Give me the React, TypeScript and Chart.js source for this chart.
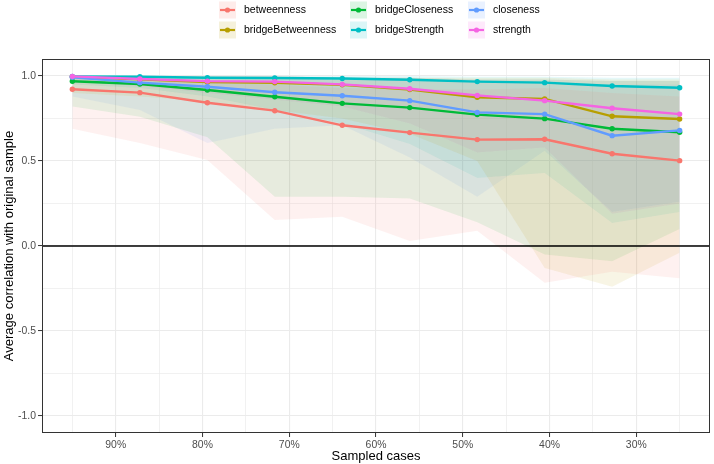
import React, { useEffect, useRef } from 'react';
import { Chart, registerables } from 'chart.js';
Chart.register(...registerables);

// ---- Data ----
const sampledCases = [0.95, 0.8722, 0.7944, 0.7167, 0.6389, 0.5611, 0.4833, 0.4056, 0.3278, 0.25];
const seriesNames = ['betweenness', 'bridgeBetweenness', 'bridgeCloseness', 'bridgeStrength', 'closeness', 'strength'];
const seriesColors = ['#F8766D', '#B79F00', '#00BA38', '#00BFC4', '#619CFF', '#F564E3'];

const betweennessMean = [0.922, 0.902, 0.843, 0.796, 0.71, 0.667, 0.626, 0.628, 0.543, 0.502];
const betweennessLower = [0.69, 0.606, 0.506, 0.153, 0.172, 0.03, 0.09, -0.216, -0.151, -0.19];
const betweennessUpper = [0.99, 0.98, 0.96, 0.95, 0.93, 0.92, 0.92, 0.93, 0.9, 0.88];

const bridgeBetweennessMean = [0.995, 0.98, 0.965, 0.96, 0.948, 0.92, 0.875, 0.865, 0.763, 0.747];
const bridgeBetweennessLower = [0.9, 0.88, 0.85, 0.8, 0.75, 0.66, 0.5, -0.13, -0.24, -0.04];
const bridgeBetweennessUpper = [1, 1, 1, 1, 0.99, 0.99, 0.99, 0.99, 0.98, 0.98];

const bridgeClosenessMean = [0.969, 0.953, 0.918, 0.878, 0.839, 0.814, 0.773, 0.749, 0.69, 0.669];
const bridgeClosenessLower = [0.82, 0.76, 0.64, 0.29, 0.29, 0.28, 0.14, -0.05, -0.09, 0.1];
const bridgeClosenessUpper = [1, 1, 0.99, 0.99, 0.99, 0.99, 0.98, 0.98, 0.97, 0.97];

const bridgeStrengthMean = [0.998, 0.996, 0.99, 0.988, 0.985, 0.978, 0.967, 0.961, 0.941, 0.931];
const bridgeStrengthLower = [0.95, 0.93, 0.88, 0.8, 0.72, 0.6, 0.4, 0.43, 0.135, 0.2];
const bridgeStrengthUpper = [1, 1, 1, 1, 1, 1, 0.995, 0.995, 0.99, 0.99];

const closenessMean = [0.992, 0.961, 0.937, 0.904, 0.884, 0.855, 0.786, 0.776, 0.649, 0.68];
const closenessLower = [0.88, 0.8, 0.606, 0.69, 0.71, 0.52, 0.29, 0.56, 0.2, 0.26];
const closenessUpper = [1, 1, 0.99, 0.99, 0.98, 0.98, 0.97, 0.97, 0.95, 0.95];

const strengthMean = [0.998, 0.982, 0.97, 0.967, 0.951, 0.925, 0.886, 0.855, 0.81, 0.776];
const strengthLower = [0.97, 0.94, 0.9, 0.86, 0.82, 0.72, 0.55, 0.58, 0.19, 0.25];
const strengthUpper = [1, 1, 1, 1, 0.99, 0.99, 0.98, 0.98, 0.97, 0.97];

const meanSeries = [betweennessMean, bridgeBetweennessMean, bridgeClosenessMean, bridgeStrengthMean, closenessMean, strengthMean];
const lowerSeries = [betweennessLower, bridgeBetweennessLower, bridgeClosenessLower, bridgeStrengthLower, closenessLower, strengthLower];
const upperSeries = [betweennessUpper, bridgeBetweennessUpper, bridgeClosenessUpper, bridgeStrengthUpper, closenessUpper, strengthUpper];

const xTicks = [0.25, 0.3, 0.35, 0.4, 0.45, 0.5, 0.55, 0.6, 0.65, 0.7, 0.75, 0.8, 0.85, 0.9, 0.95];
const yTicks = [-1, -0.75, -0.5, -0.25, 0, 0.25, 0.5, 0.75, 1];
const xTitle = 'Sampled cases';
const yTitle = 'Average correlation with original sample';

// ---- Helpers ----
const FONT = '"Liberation Sans", Arial, Helvetica, sans-serif';
function rgba(hex: string, a: number) {
  const n = parseInt(hex.slice(1), 16);
  return `rgba(${(n >> 16) & 255},${(n >> 8) & 255},${n & 255},${a})`;
}
const isMajorX = (v: number) => Math.abs(v * 10 - Math.round(v * 10)) < 1e-6;
const isMajorY = (v: number) => Math.abs(v * 2 - Math.round(v * 2)) < 1e-6;

const legendPlugin = {
  id: 'ggLegend',
  afterDraw(chart: any) {
    const ctx = chart.ctx;
    const keyLeft = [219, 350, 468];
    const rowY = [10, 30];
    const keySize = 17;
    ctx.save();
    ctx.font = `10.5px ${FONT}`;
    ctx.textBaseline = 'middle';
    ctx.textAlign = 'left';
    seriesNames.forEach((name, i) => {
      const col = Math.floor(i / 2);
      const row = i % 2;
      const x = keyLeft[col];
      const cy = rowY[row];
      ctx.fillStyle = rgba(seriesColors[i], 0.14);
      ctx.fillRect(x, cy - keySize / 2, keySize, keySize);
      ctx.strokeStyle = seriesColors[i];
      ctx.lineWidth = 2.2;
      ctx.beginPath();
      ctx.moveTo(x + 1, cy);
      ctx.lineTo(x + keySize - 1, cy);
      ctx.stroke();
      ctx.fillStyle = seriesColors[i];
      ctx.beginPath();
      ctx.arc(x + keySize / 2, cy, 2.6, 0, Math.PI * 2);
      ctx.fill();
      ctx.fillStyle = '#000000';
      ctx.fillText(name, x + keySize + 8, cy);
    });
    // panel border
    const a = chart.chartArea;
    ctx.strokeStyle = '#333333';
    ctx.lineWidth = 1;
    ctx.strokeRect(a.left + 0.5, a.top + 0.5, a.right - a.left - 1, a.bottom - a.top - 1);
    ctx.restore();
  },
};

const zeroLinePlugin = {
  id: 'zeroLine',
  afterDatasetsDraw(chart: any) {
    const ctx = chart.ctx;
    const y = chart.scales.y.getPixelForValue(0);
    const a = chart.chartArea;
    ctx.save();
    ctx.strokeStyle = '#000000';
    ctx.lineWidth = 1.6;
    ctx.beginPath();
    ctx.moveTo(a.left, y);
    ctx.lineTo(a.right, y);
    ctx.stroke();
    ctx.restore();
  },
};

export default function App() {
  const ref = useRef<HTMLCanvasElement | null>(null);
  useEffect(() => {
    document.body.style.margin = '0';
    const datasets: any[] = [];
    seriesNames.forEach((name, i) => {
      datasets.push({
        label: name + ' upper',
        data: sampledCases.map((x, k) => ({ x, y: upperSeries[i][k] })),
        borderWidth: 0,
        pointRadius: 0,
        backgroundColor: rgba(seriesColors[i], 0.1),
        fill: '+1',
        order: 100,
      });
      datasets.push({
        label: name + ' lower',
        data: sampledCases.map((x, k) => ({ x, y: lowerSeries[i][k] })),
        borderWidth: 0,
        pointRadius: 0,
        fill: false,
        order: 100,
      });
    });
    seriesNames.forEach((name, i) => {
      datasets.push({
        label: name,
        data: sampledCases.map((x, k) => ({ x, y: meanSeries[i][k] })),
        borderColor: seriesColors[i],
        backgroundColor: seriesColors[i],
        borderWidth: 2.4,
        pointRadius: 2.7,
        pointBorderWidth: 0,
        pointBackgroundColor: seriesColors[i],
        fill: false,
        tension: 0,
        order: 10 - i,
      });
    });

    const chart = new Chart(ref.current as HTMLCanvasElement, {
      type: 'line',
      data: { datasets },
      options: {
        animation: false,
        responsive: false,
        layout: { padding: { top: 59, right: 2, left: 0, bottom: 0 } },
        plugins: {
          legend: { display: false },
          tooltip: { enabled: false },
          filler: { drawTime: 'beforeDatasetsDraw', propagate: false },
        } as any,
        scales: {
          x: {
            type: 'linear',
            reverse: true,
            min: 0.215,
            max: 0.985,
            afterBuildTicks: (s: any) => { s.ticks = xTicks.map((v) => ({ value: v })); },
            afterFit: (s: any) => { s.height = 31; },
            ticks: {
              autoSkip: false,
              maxRotation: 0,
              padding: 2,
              color: '#4D4D4D',
              font: { family: FONT, size: 10.4 },
              callback: (v: any) => (isMajorX(Number(v)) ? `${Math.round(Number(v) * 100)}%` : ''),
            },
            grid: {
              color: '#EBEBEB',
              lineWidth: (c: any) => (c.tick && isMajorX(c.tick.value) ? 1.1 : 0.7),
              tickLength: 4,
              tickColor: (c: any) => (c.tick && isMajorX(c.tick.value) ? '#333333' : 'rgba(0,0,0,0)'),
              tickWidth: 1,
            },
            border: { display: false },
            title: {
              display: true,
              text: xTitle,
              color: '#000000',
              font: { family: FONT, size: 13 },
              padding: { top: 0, bottom: 0 },
            },
          },
          y: {
            type: 'linear',
            min: -1.1,
            max: 1.1,
            afterBuildTicks: (s: any) => { s.ticks = yTicks.map((v) => ({ value: v })); },
            afterFit: (s: any) => { s.width = 42; },
            ticks: {
              autoSkip: false,
              padding: 2,
              color: '#4D4D4D',
              font: { family: FONT, size: 10.4 },
              callback: (v: any) => (isMajorY(Number(v)) ? Number(v).toFixed(1) : ''),
            },
            grid: {
              color: '#EBEBEB',
              lineWidth: (c: any) => (c.tick && isMajorY(c.tick.value) ? 1.1 : 0.7),
              tickLength: 4,
              tickColor: (c: any) => (c.tick && isMajorY(c.tick.value) ? '#333333' : 'rgba(0,0,0,0)'),
              tickWidth: 1,
            },
            border: { display: false },
            title: {
              display: true,
              text: yTitle,
              color: '#000000',
              font: { family: FONT, size: 13 },
              padding: { top: 2, bottom: 0 },
            },
          },
        },
      } as any,
      plugins: [zeroLinePlugin, legendPlugin],
    });
    return () => chart.destroy();
  }, []);

  return (
    <div style={{ width: 714, height: 464, background: '#FFFFFF' }}>
      <canvas ref={ref} width={714} height={464} style={{ display: 'block' }} />
    </div>
  );
}
